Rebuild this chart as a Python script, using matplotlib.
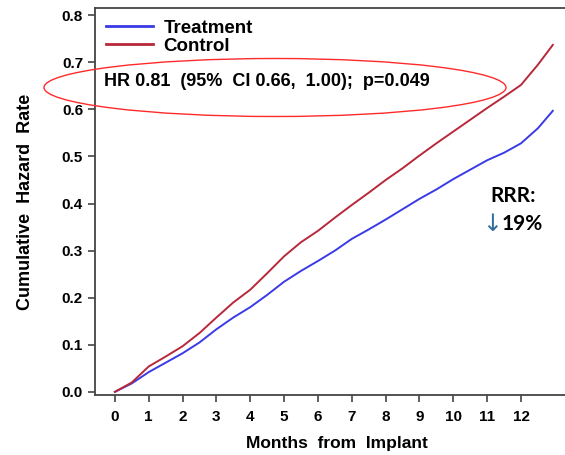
import matplotlib.pyplot as plt
from matplotlib.patches import Ellipse

# values (months, cumulative hazard)
months = [0, 0.5, 1.0, 1.5, 2.0, 2.5, 3.0, 3.5, 4.0, 4.5, 5.0, 5.5, 6.0, 6.5,
          7.0, 7.5, 8.0, 8.5, 9.0, 9.5, 10.0, 10.5, 11.0, 11.5, 12.0, 12.5, 12.94]
control = [0.0, 0.020, 0.054, 0.075, 0.097, 0.125, 0.158, 0.190, 0.217, 0.252,
           0.288, 0.318, 0.342, 0.370, 0.397, 0.423, 0.450, 0.475, 0.502, 0.528,
           0.553, 0.578, 0.603, 0.627, 0.652, 0.695, 0.737]
treatment = [0.0, 0.018, 0.042, 0.062, 0.082, 0.105, 0.133, 0.158, 0.180, 0.206,
             0.234, 0.257, 0.278, 0.300, 0.325, 0.345, 0.366, 0.388, 0.410, 0.430,
             0.452, 0.472, 0.492, 0.508, 0.528, 0.560, 0.597]
x_ticks = list(range(0, 13))
y_ticks = [0.0, 0.1, 0.2, 0.3, 0.4, 0.5, 0.6, 0.7, 0.8]

plt.rcParams["font.family"] = ["Liberation Sans", "DejaVu Sans"]
plt.rcParams["font.weight"] = "bold"

fig = plt.figure(figsize=(5.65, 4.55), dpi=100)
ax = fig.add_axes([0.168, 0.132, 0.832, 0.850])

ax.plot(months, treatment, color="#3a3ae6", lw=1.4, label="Treatment")
ax.plot(months, control, color="#b8283a", lw=1.4, label="Control")

ax.set_xlim(-0.59, 13.3)
ax.set_ylim(-0.0065, 0.815)
ax.set_xticks(x_ticks)
ax.set_yticks(y_ticks)
ax.set_yticklabels([f"{v:.1f}" for v in y_ticks])
ax.tick_params(labelsize=11, color="#444444", length=5, width=1.2)
ax.tick_params(axis="x", pad=6)
for side in ["left", "bottom", "top"]:
    ax.spines[side].set_color("#444444")
    ax.spines[side].set_linewidth(1.3)
ax.spines["right"].set_visible(False)

ax.set_xlabel("Months  from  Implant", fontsize=12.5, fontweight="bold", va="center")
ax.xaxis.set_label_coords(0.515, -0.126)
ax.set_ylabel("Cumulative  Hazard  Rate", fontsize=13, fontweight="bold", labelpad=20)

leg = ax.legend(loc="upper left", bbox_to_anchor=(0.0, 1.0), frameon=False,
                fontsize=13.5, handlelength=2.5, handletextpad=0.55,
                labelspacing=0.05, borderaxespad=0.2)
for h in leg.legend_handles:
    h.set_linewidth(2)

fig.text(104 / 565, 1 - 82 / 455, "HR 0.81  (95%  CI 0.66,  1.00);  p=0.049",
         fontsize=13, fontweight="bold", va="center", ha="left")
fig.add_artist(Ellipse((2.75, 4.55 - 0.875), 4.62, 0.58,
                       transform=fig.dpi_scale_trans, fill=False,
                       edgecolor="#ff2a2a", lw=1.0, clip_on=False))

fig.text(490 / 565, 1 - 196 / 455, "RRR:", fontsize=15, fontweight="bold",
         family=["Lato", "DejaVu Sans"], va="center", ha="left")
fig.text(482 / 565, 1 - 225 / 455, "\u2193", fontsize=17, fontweight="normal",
         color="#2f6f9f", family=["Noto Sans", "DejaVu Sans"], va="center", ha="left")
fig.text(502 / 565, 1 - 224 / 455, "19%", fontsize=15, fontweight="bold",
         family=["Lato", "DejaVu Sans"], va="center", ha="left")

fig.savefig("out.png", dpi=100)
